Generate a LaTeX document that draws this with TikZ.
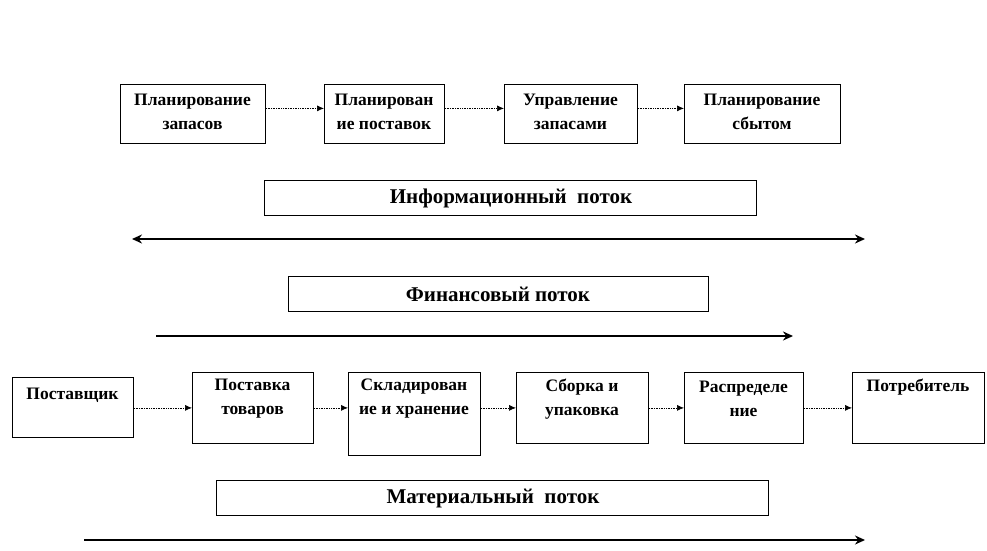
\documentclass[tikz,border=0pt]{standalone}
\usepackage{fontspec}
\setmainfont{Liberation Serif}
\usetikzlibrary{arrows.meta}
\begin{document}
\begin{tikzpicture}[x=1pt,y=-1pt,
  box/.style={draw, line width=0.8pt, anchor=north west, inner sep=0pt},
  txt/.style={font=\bfseries\fontsize{17.5}{24}\selectfont, align=center, inner sep=0pt},
  lbl/.style={font=\bfseries\fontsize{21}{24}\selectfont, inner sep=0pt},
  link/.style={densely dotted, line width=0.7pt, -{Latex[length=7pt,width=6pt]}},
  flow/.style={line width=2.4pt, -{Stealth[length=10pt,width=9pt]}},
  dflow/.style={line width=2.4pt, {Stealth[length=10pt,width=9pt]}-{Stealth[length=10pt,width=9pt]}}]
\useasboundingbox (0,0) rectangle (987,551);
\fill[white] (0,0) rectangle (987,551);
% top row
\node[box, minimum width=145pt, minimum height=59pt] (t1) at (120,84) {};
\node[box, minimum width=120pt, minimum height=59pt] (t2) at (324,84) {};
\node[box, minimum width=133pt, minimum height=59pt] (t3) at (504,84) {};
\node[box, minimum width=156pt, minimum height=59pt] (t4) at (684,84) {};
\node[txt] (t1t) at (192.5,112) {Планирование\\запасов};
\node[txt] (t2t) at (384,112) {Планирован\\ие поставок};
\node[txt] (t3t) at (570.5,112) {Управление\\запасами};
\node[txt] (t4t) at (762,112) {Планирование\\сбытом};
\draw[link] ([yshift=5.5pt]t1.east) -- ([yshift=5.5pt]t2.west);
\draw[link] ([yshift=5.5pt]t2.east) -- ([yshift=5.5pt]t3.west);
\draw[link] ([yshift=5.5pt]t3.east) -- ([yshift=5.5pt]t4.west);
% information flow
\node[box, minimum width=492pt, minimum height=35pt] (inf) at (264,180) {};
\node[lbl] (inft) at (511,198) {Информационный\ \ поток};
\coordinate (i1) at (132,239);
\coordinate (i2) at (865,239);
\draw[dflow] (i1) -- (i2);
% financial flow
\node[box, minimum width=420pt, minimum height=35pt] (fin) at (288,276) {};
\node[lbl] (fint) at (498,294) {Финансовый поток};
\coordinate (f1) at (156,336);
\coordinate (f2) at (793,336);
\draw[flow] (f1) -- (f2);
% bottom row
\node[box, minimum width=121pt, minimum height=60pt] (b1) at (12,377) {};
\node[box, minimum width=121pt, minimum height=71pt] (b2) at (192,372) {};
\node[box, minimum width=132pt, minimum height=83pt] (b3) at (348,372) {};
\node[box, minimum width=132pt, minimum height=71pt] (b4) at (516,372) {};
\node[box, minimum width=119pt, minimum height=71pt] (b5) at (684,372) {};
\node[box, minimum width=132pt, minimum height=71pt] (b6) at (852,372) {};
\node[txt] (b1t) at (72.5,395) {Поставщик};
\node[txt] (b2t) at (252.5,399) {Поставка\\товаров};
\node[txt] (b3t) at (414,399) {Складирован\\ие и хранение};
\node[txt] (b4t) at (582,399) {Сборка и\\упаковка};
\node[txt] (b5t) at (743.5,399) {Распределе\\ние};
\node[txt] (b6t) at (918,387) {Потребитель};
\draw[link] (b1.east |- b2.west) -- (b2.west);
\draw[link] (b2.east) -- (b3.west |- b2.east);
\draw[link] (b3.east |- b4.west) -- (b4.west);
\draw[link] (b4.east) -- (b5.west);
\draw[link] (b5.east) -- (b6.west);
% material flow
\node[box, minimum width=552pt, minimum height=35pt] (mat) at (216,480) {};
\node[lbl] (matt) at (493,498) {Материальный\ \ поток};
\coordinate (m1) at (84,540);
\coordinate (m2) at (865,540);
\draw[flow] (m1) -- (m2);
\end{tikzpicture}
\end{document}
